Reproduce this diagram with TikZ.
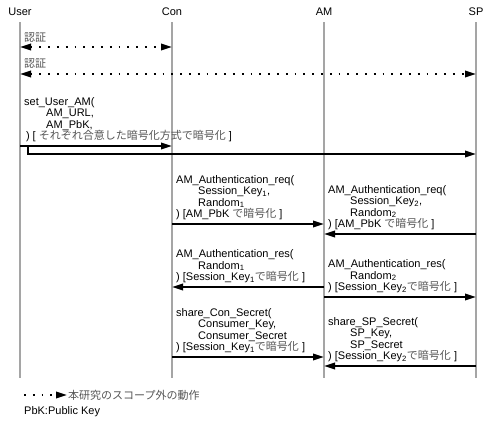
\documentclass[tikz,border=0pt]{standalone}
\usepackage{fontspec}
\setmainfont{Liberation Sans}
\newfontfamily\jpfont{Noto Sans CJK JP}
\usetikzlibrary{arrows.meta, positioning, calc}
\definecolor{linegray}{RGB}{165, 165, 165}
\definecolor{jpgray}{RGB}{85, 85, 85}

\newcommand{\jp}[1]{{\jpfont\color{jpgray}#1}}
\newcommand{\ind}{\hspace*{22pt}}

\tikzset{
  actor/.style={inner sep=1pt},
  lifeline/.style={linegray, line width=1.6pt},
  msg/.style={->, line width=1.7pt},
  outscope/.style={line width=1.8pt, dash pattern=on 1.8pt off 7pt},
  msgtext/.style={align=left, anchor=south west, inner sep=1pt}
}

\begin{document}
\begin{tikzpicture}[x=1pt, y=-1pt, >={Triangle[length=11pt, width=6.5pt]},
    every node/.style={font=\fontsize{11}{11.5}\selectfont}]
  \useasboundingbox (0,0) rectangle (483,423);

  %% ACTORS AND LIFELINES
  \node[actor] (user) at (20,12) {User};
  \node[actor] (con)  at (172,12) {Con};
  \node[actor] (am)   at (324,12) {AM};
  \node[actor] (sp)   at (476,12) {SP};
  \foreach \who in {user, con, am, sp}
    \draw[lifeline] (\who |- 0,22) -- (\who |- 0,378);

  %% AUTHENTICATION (out of scope)
  \node[anchor=west, inner sep=1pt] (auth1) at (23,38) {\jp{認証}};
  \draw[outscope, <->] (user |- 0,47) -- (con |- 0,47);
  \node[anchor=west, inner sep=1pt] (auth2) at (23,64) {\jp{認証}};
  \draw[outscope, <->] (user |- 0,74) -- (sp |- 0,74);

  %% set_User_AM
  \node[msgtext] (setuser) at (23,143)
    {set\_User\_AM(\\ \ind AM\_URL,\\ \ind AM\_PbK,\\
     \,) [ \jp{それぞれ合意した暗号化方式で暗号化} ]};
  \draw[msg] (user |- 0,146) -- (con |- 0,146);
  \coordinate (fork) at (28,146);
  \draw[msg] (fork) -- (28,154) -- (sp |- 0,154);

  %% AM_Authentication_req
  \node[msgtext] (reqcon) at (175,221)
    {AM\_Authentication\_req(\\ \ind Session\_Key\textsubscript{1},\\
     \ind Random\textsubscript{1}\\ ) [AM\_PbK \jp{で暗号化} ]};
  \draw[msg] (con |- 0,224) -- (am |- 0,224);
  \node[msgtext] (reqsp) at (327,231)
    {AM\_Authentication\_req(\\ \ind Session\_Key\textsubscript{2},\\
     \ind Random\textsubscript{2}\\ ) [AM\_PbK \jp{で暗号化} ]};
  \draw[msg] (sp |- 0,234) -- (am |- 0,234);

  %% AM_Authentication_res
  \node[msgtext] (rescon) at (175,284)
    {AM\_Authentication\_res(\\ \ind Random\textsubscript{1}\\
     ) [Session\_Key\textsubscript{1}\jp{で暗号化} ]};
  \draw[msg] (am |- 0,287) -- (con |- 0,287);
  \node[msgtext] (ressp) at (327,294)
    {AM\_Authentication\_res(\\ \ind Random\textsubscript{2}\\
     ) [Session\_Key\textsubscript{2}\jp{で暗号化} ]};
  \draw[msg] (am |- 0,297) -- (sp |- 0,297);

  %% share secrets
  \node[msgtext] (sharecon) at (175,354)
    {share\_Con\_Secret(\\ \ind Consumer\_Key,\\ \ind Consumer\_Secret\\
     ) [Session\_Key\textsubscript{1}\jp{で暗号化} ]};
  \draw[msg] (con |- 0,357) -- (am |- 0,357);
  \node[msgtext] (sharesp) at (327,363)
    {share\_SP\_Secret(\\ \ind SP\_Key,\\ \ind SP\_Secret\\
     ) [Session\_Key\textsubscript{2}\jp{で暗号化} ]};
  \draw[msg] (sp |- 0,366) -- (am |- 0,366);

  %% LEGEND
  \coordinate (legfrom) at (24,395);
  \node[anchor=west, inner sep=1pt] (legtext) at (67,395) {\jp{本研究のスコープ外の動作}};
  \draw[outscope, ->] (legfrom) -- (legtext.west);
  \node[anchor=west, inner sep=1pt] (pbk) at (23,412) {PbK:Public Key};
\end{tikzpicture}
\end{document}
